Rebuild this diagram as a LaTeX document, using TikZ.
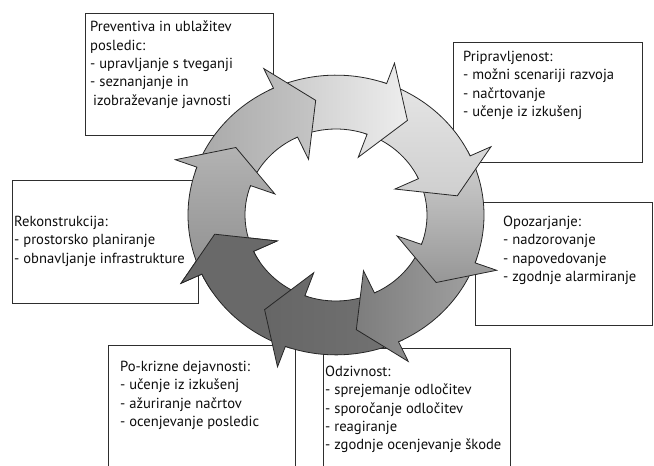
\documentclass[tikz,border=0pt]{standalone}
\usepackage{fontspec}
\setmainfont{PT Sans}
\newcommand\ringseg[4]{%
  \path[seg,#4] (#1:148pt) arc[start angle=#1, end angle=#2, radius=148pt]
    -- (#2:171pt) -- (#3:123pt) -- (#2:65pt) -- (#2:91pt)
    arc[start angle=#2, end angle=#1, radius=91pt] -- cycle;}
\begin{document}
\begin{tikzpicture}[x=1pt,y=-1pt,
  frame/.style={draw=black!82, line width=0.9pt, anchor=north west, inner sep=0pt, outer sep=0pt},
  txt/.style={anchor=north west, align=left, inner sep=0pt, font=\fontsize{14.6}{18.3}\selectfont, text=black!95},
  seg/.style={draw=black!85, line width=0.8pt, line join=miter}]
\useasboundingbox (0,0) rectangle (654,466);
% frames
\node[frame, minimum width=188pt, minimum height=122pt] (f1) at (85,13) {};
\node[frame, minimum width=189pt, minimum height=120pt] (f2) at (453,42) {};
\node[frame, minimum width=177pt, minimum height=123pt] (f3) at (475,202) {};
\node[frame, minimum width=186pt, minimum height=123pt] (f4) at (12,180) {};
\node[frame, minimum width=187pt, minimum height=140pt] (f5) at (108,345) {};
\node[frame, minimum width=187pt, minimum height=140pt] (f6) at (323,348) {};
% texts
\node[txt] (t1) at (90,21) {Preventiva in ublažitev\\posledic:\\- upravljanje s tveganji\\- seznanjanje in\\\hspace*{3pt}izobraževanje javnosti};
\node[txt] (t2) at (463,51) {Pripravljenost:\\- možni scenariji razvoja\\- načrtovanje\\- učenje iz izkušenj};
\node[txt] (t3) at (503,216) {Opozarjanje:\\- nadzorovanje\\- napovedovanje\\- zgodnje alarmiranje};
\node[txt] (t4) at (14,216) {Rekonstrukcija:\\- prostorsko planiranje\\- obnavljanje infrastrukture};
\node[txt] (t5) at (120,361) {Po-krizne dejavnosti:\\- učenje iz izkušenj\\- ažuriranje načrtov\\- ocenjevanje posledic};
\node[txt] (t6) at (325,366) {Odzivnost:\\- sprejemanje odločitev\\- sporočanje odločitev\\- reagiranje\\- zgodnje ocenjevanje škode};
% ring
\begin{scope}[x=1pt,y=1pt,shift={(336pt,-215pt)},yscale=0.945]
\ringseg{-108}{-155}{-170.5}{fill=black!59}
\ringseg{-63}{-110}{-125.5}{left color=black!60, right color=black!55}
\ringseg{-18}{-65}{-80.5}{left color=black!51, right color=black!37}
\ringseg{27}{-20}{-35.5}{top color=black!18, bottom color=black!41}
\ringseg{72}{25}{9.5}{top color=black!10, bottom color=black!19}
\ringseg{117}{70}{54.5}{left color=black!22, right color=black!7}
\ringseg{162}{115}{99.5}{left color=black!34, right color=black!23}
\ringseg{207}{160}{144.5}{top color=black!30, bottom color=black!44}
\fill[black!59] (-147:148pt) arc[start angle=-147, end angle=-155, radius=148pt]
  -- (-155:171pt) -- (-170.5:123pt) -- (-155:65pt) -- (-155:91pt)
  arc[start angle=-155, end angle=-147, radius=91pt] -- cycle;
\draw[seg] (-147:148pt) arc[start angle=-147, end angle=-155, radius=148pt]
  -- (-155:171pt) -- (-170.5:123pt) -- (-155:65pt) -- (-155:91pt)
  arc[start angle=-155, end angle=-147, radius=91pt];
\end{scope}
\end{tikzpicture}
\end{document}
